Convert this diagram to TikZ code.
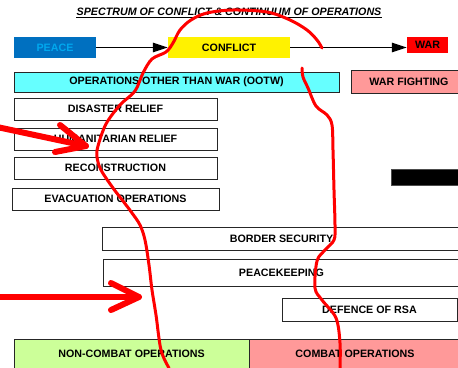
\documentclass[tikz,border=0pt]{standalone}
\usepackage{fontspec}
\setmainfont{Liberation Sans}
\usetikzlibrary{arrows.meta}
\definecolor{peaceblue}{HTML}{0070C0}
\definecolor{peacetext}{HTML}{00A8EE}
\definecolor{ootwcyan}{HTML}{66FFFF}
\definecolor{warpink}{HTML}{FF9999}
\definecolor{noncombatgreen}{HTML}{CCFF99}
\definecolor{markred}{HTML}{FF0000}

\begin{document}
\begin{tikzpicture}[x=1pt,y=-1pt,
  font=\fontsize{10.7}{12}\selectfont\bfseries,
  box/.style={draw=black!85, line width=0.9pt, rectangle, inner sep=0pt, align=center},
  plain/.style={rectangle, inner sep=0pt, align=center},
  flow/.style={line width=1.5pt, -{Triangle[length=15pt,width=9.5pt]}},
  scribble/.style={draw=markred, line width=3pt, line cap=round, line join=round},
  pointer/.style={draw=markred, line width=6pt, line cap=round, line join=round},
]
\useasboundingbox (0,0) rectangle (458,367);
\clip (0,0) rectangle (458,367);

% heading, underlined
\node[plain, font=\fontsize{10.7}{12}\selectfont\bfseries\itshape] (title) at (229,12)
  {SPECTRUM OF CONFLICT \& CONTINUUM OF OPERATIONS};
\draw[line width=1.1pt] ([yshift=-2pt]title.base west) -- ([yshift=-2pt]title.base east);

% spectrum bar
\node[plain, fill=peaceblue, text=peacetext, minimum width=82pt, minimum height=21pt] (peace) at (55,47.5) {PEACE};
\node[plain, fill=yellow, minimum width=122pt, minimum height=21pt] (conflict) at (229,47.5) {CONFLICT};
\node[plain, fill=markred, minimum width=41pt, minimum height=16pt] (war) at (427.5,45) {WAR};
\draw[flow] (peace.east) -- (conflict.west);
\draw[flow] (conflict.east) -- (war.west |- conflict.east);

% categories
\node[box, fill=ootwcyan, minimum width=325pt, minimum height=20pt] (ootw) at (176.5,82) {OPERATIONS OTHER THAN WAR (OOTW)};
\node[box, fill=warpink, minimum width=116pt, minimum height=23pt] (warfighting) at (409,81.5) {WAR FIGHTING};

% operations
\node[box, minimum width=203pt, minimum height=22pt] (disaster) at (115.5,109) {DISASTER RELIEF};
\node[box, minimum width=203pt, minimum height=22pt] (humanitarian) at (115.5,139) {HUMANITARIAN RELIEF};
\node[box, minimum width=203pt, minimum height=22pt] (reconstruction) at (115.5,168) {RECONSTRUCTION};
\node[box, minimum width=207pt, minimum height=22pt] (evacuation) at (115.5,199) {EVACUATION OPERATIONS};
\node[plain, fill=black, draw=black!70, minimum width=70pt, minimum height=16pt] (blackbar) at (426,177) {};
\node[box, minimum width=359pt, minimum height=23pt] (border) at (281.5,238.5) {BORDER SECURITY};
\node[box, minimum width=357pt, minimum height=27pt] (peacekeeping) at (281.5,272.5) {PEACEKEEPING};
\node[box, minimum width=175pt, minimum height=23pt] (defence) at (369.5,309.5) {DEFENCE OF RSA};

% bottom bands
\node[box, fill=noncombatgreen, minimum width=235pt, minimum height=29pt] (noncombat) at (131.5,353.5) {NON-COMBAT OPERATIONS};
\node[box, fill=warpink, minimum width=212pt, minimum height=29pt] (combat) at (355,353.5) {COMBAT OPERATIONS};

% red marker strokes
\draw[scribble] plot[smooth, tension=0.55] coordinates {
  (169,368) (161,350) (156,315) (152,290) (149,265) (145,240) (140,225) (132,213)
  (123,201) (113,188) (101,170) (97,157) (98,146) (106,124) (120,105) (135,91)
  (143,73) (152,59) (166,52) (173,43) (180,30) (191,20) (207,13) (233,10)
  (267,12) (290,20) (307,30) (317,40) (322,48)};
\draw[scribble] plot[smooth, tension=0.55] coordinates {
  (302,68) (303,77) (308,88) (316,106) (327,115) (332,125) (333,150) (334,190)
  (335,225) (334,240) (325,250) (317,261) (315,288) (322,300) (336,318) (340,343) (340,368)};

% red pointers
\coordinate (ptrAstart) at (-3,127);
\coordinate (ptrAtip) at (86,146);
\draw[pointer] (ptrAstart) -- (ptrAtip);
\draw[pointer] (60,125) -- (ptrAtip) -- (55,152);
\coordinate (ptrBstart) at (-3,297);
\coordinate (ptrBtip) at (139,297);
\draw[pointer] (ptrBstart) -- (ptrBtip);
\draw[pointer] (111,283) -- (ptrBtip) -- (111,310);
\end{tikzpicture}
\end{document}
